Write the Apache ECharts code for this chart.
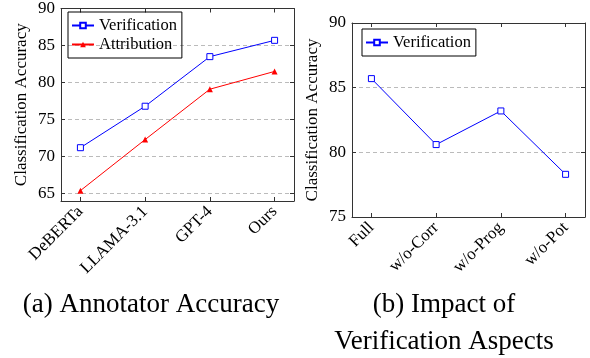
<!DOCTYPE html>
<html>
<head>
<meta charset="utf-8">
<script src="https://cdn.jsdelivr.net/npm/echarts@6/dist/echarts.min.js"></script>
<style>
  html, body { margin: 0; padding: 0; background: #fff; }
  #chart { width: 590px; height: 358px; }
</style>
</head>
<body>
<div id="chart"></div>
<script>
// (a) Annotator Accuracy
const categoriesA = ['DeBERTa', 'LLAMA-3.1', 'GPT-4', 'Ours'];
const verificationA = [71.2, 76.8, 83.5, 85.7];
const attributionA = [65.4, 72.3, 79.1, 81.5];
const yTicksA = [65, 70, 75, 80, 85, 90];

// (b) Impact of Verification Aspects
const categoriesB = ['Full', 'w/o-Corr', 'w/o-Prog', 'w/o-Pot'];
const verificationB = [85.7, 80.6, 83.2, 78.3];
const yTicksB = [75, 80, 85, 90];

const serif = 'Liberation Serif';
const frame = { show: true, onZero: false, lineStyle: { color: '#333', width: 1 } };

const chart = echarts.init(document.getElementById('chart'));

function pairs(values) {
  return values.map((v, i) => [i, v]);
}

// bottom axis with rotated category names, plus a mirrored top axis for the ticks
function xAxes(grid, cats) {
  const idx = cats.map((c, i) => i);
  return [
    {
      gridIndex: grid, type: 'value', position: 'bottom', min: -0.3, max: 3.3,
      axisLine: frame,
      axisTick: { show: true, inside: true, length: 4, customValues: idx, lineStyle: { color: '#333' } },
      axisLabel: {
        customValues: idx, rotate: 45, margin: 8,
        formatter: v => cats[Math.round(v)],
        fontFamily: serif, fontSize: 17, color: '#000'
      },
      splitLine: { show: false }
    },
    {
      gridIndex: grid, type: 'value', position: 'top', min: -0.3, max: 3.3,
      axisLine: frame,
      axisTick: { show: true, inside: true, length: 4, customValues: idx, lineStyle: { color: '#333' } },
      axisLabel: { show: false },
      splitLine: { show: false }
    }
  ];
}

function yAxes(grid, min, max, ticks) {
  return [
    {
      gridIndex: grid, type: 'value', position: 'left', min: min, max: max,
      name: 'Classification Accuracy', nameLocation: 'middle', nameGap: 31,
      nameTextStyle: { fontFamily: serif, fontSize: 17, color: '#000' },
      axisLine: frame,
      axisTick: { show: true, inside: true, length: 4, customValues: ticks, lineStyle: { color: '#333' } },
      axisLabel: { customValues: ticks, margin: 6, fontFamily: serif, fontSize: 17, color: '#000' },
      splitLine: { show: true, lineStyle: { color: '#bbb', type: [4, 3], width: 1 } }
    },
    {
      gridIndex: grid, type: 'value', position: 'right', min: min, max: max,
      axisLine: frame,
      axisTick: { show: true, inside: true, length: 4, customValues: ticks, lineStyle: { color: '#333' } },
      axisLabel: { show: false },
      splitLine: { show: false }
    }
  ];
}

const legendBase = {
  orient: 'vertical',
  itemWidth: 22, itemHeight: 7, itemGap: 2,
  padding: [5, 5, 5, 3],
  borderColor: '#000', borderWidth: 1,
  selectedMode: false,
  textStyle: { fontFamily: serif, fontSize: 16.5, color: '#000' }
};

// open blue square marker, drawn as a white square with a thin blue edge
const squareStyle = { color: '#fff', borderColor: '#0000ff', borderWidth: 1 };

const option = {
  animation: false,
  backgroundColor: '#fff',
  grid: [
    { left: 61, top: 7, width: 233, height: 194 },
    { left: 352, top: 23, width: 233, height: 194 }
  ],
  xAxis: [...xAxes(0, categoriesA), ...xAxes(1, categoriesB)],
  yAxis: [...yAxes(0, 64, 90, yTicksA), ...yAxes(1, 75, 90, yTicksB)],
  legend: [
    Object.assign({}, legendBase, { left: 68, top: 12, data: ['Verification', 'Attribution'] }),
    Object.assign({}, legendBase, { left: 362, top: 29, data: ['Verification'] })
  ],
  series: [
    {
      name: 'Verification', type: 'line', xAxisIndex: 0, yAxisIndex: 0,
      data: pairs(verificationA),
      symbol: 'rect', symbolSize: 6,
      lineStyle: { color: '#0000ff', width: 1 },
      itemStyle: squareStyle
    },
    {
      name: 'Attribution', type: 'line', xAxisIndex: 0, yAxisIndex: 0,
      data: pairs(attributionA),
      symbol: 'triangle', symbolSize: 6,
      lineStyle: { color: '#ff0000', width: 1 },
      itemStyle: { color: '#ff0000' }
    },
    {
      name: 'Verification', type: 'line', xAxisIndex: 2, yAxisIndex: 2,
      data: pairs(verificationB),
      symbol: 'rect', symbolSize: 6,
      lineStyle: { color: '#0000ff', width: 1 },
      itemStyle: squareStyle
    }
  ],
  graphic: [
    { type: 'text', x: 151, y: 305, style: { text: '(a) Annotator Accuracy', font: '27px "Liberation Serif"', fill: '#000', align: 'center', verticalAlign: 'middle' } },
    { type: 'text', x: 444, y: 305, style: { text: '(b) Impact of', font: '27px "Liberation Serif"', fill: '#000', align: 'center', verticalAlign: 'middle' } },
    { type: 'text', x: 444, y: 342, style: { text: 'Verification Aspects', font: '27px "Liberation Serif"', fill: '#000', align: 'center', verticalAlign: 'middle' } }
  ]
};

chart.setOption(option);
</script>
</body>
</html>
